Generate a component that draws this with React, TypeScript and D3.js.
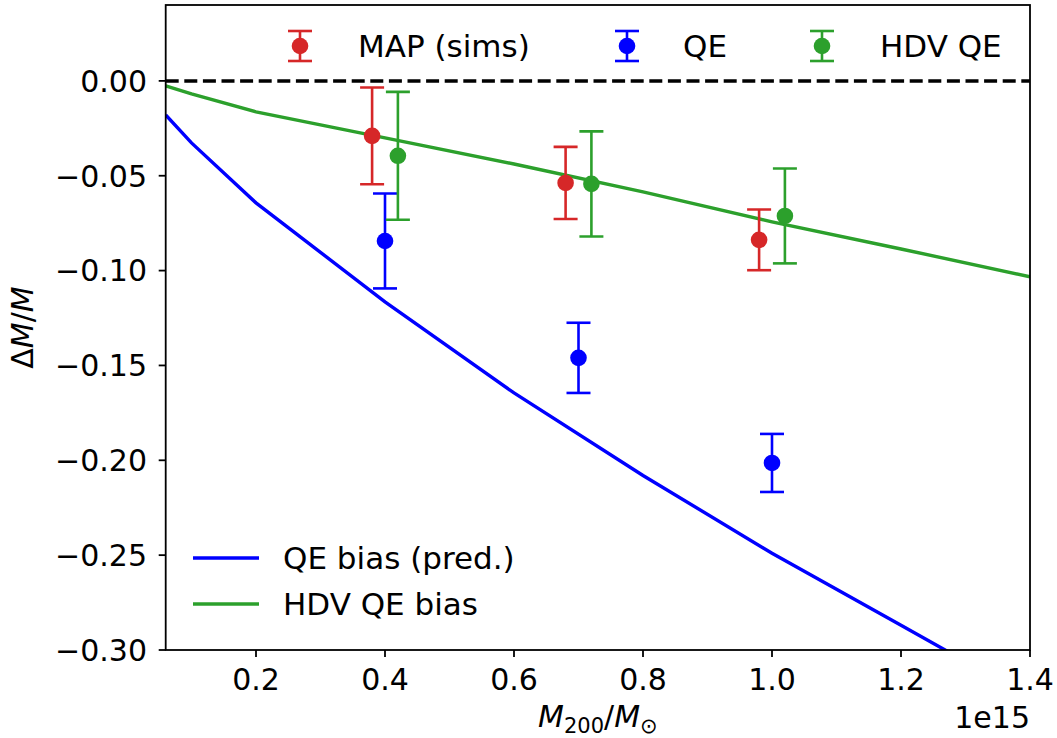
import React from 'react';
import * as d3 from 'd3';

// Prediction curves (x in units of 1e15 Msun)
const massGrid = [0.06, 0.1, 0.2, 0.4, 0.6, 0.8, 1.0, 1.2, 1.4];
const qeBiasPred = [-0.018, -0.0327, -0.0643, -0.1165, -0.1645, -0.208, -0.249, -0.287, -0.325];
const hdvBiasPred = [-0.0026, -0.0069, -0.0163, -0.03, -0.0438, -0.0585, -0.0743, -0.0886, -0.1033];

// Simulation points
const mapX = [0.38, 0.68, 0.98];
const mapY = [-0.029, -0.0538, -0.0838];
const mapErr = [0.0255, 0.019, 0.016];

const qeX = [0.4, 0.7, 1.0];
const qeY = [-0.0844, -0.146, -0.2014];
const qeErr = [0.025, 0.0185, 0.0153];

const hdvX = [0.42, 0.72, 1.02];
const hdvY = [-0.0395, -0.0543, -0.0712];
const hdvErr = [0.0337, 0.0277, 0.025];

const xTicks = [0.2, 0.4, 0.6, 0.8, 1.0, 1.2, 1.4];
const yTicks = [0.0, -0.05, -0.1, -0.15, -0.2, -0.25, -0.3];

const RED = '#d62728';
const BLUE = '#0000ff';
const GREEN = '#2ca02c';
const FONT = 'DejaVu Sans';
const FS = 30;
const LFS = 31;

const W = 1057, H = 738;
const L = 165.7, R = 1030, T = 5, B = 650;

export default function App() {
  const x = d3.scaleLinear().domain([0.06, 1.4]).range([L, R]);
  const y = d3.scaleLinear().domain([-0.3, 0.04]).range([B, T]);
  const line = d3.line<[number, number]>().x(d => x(d[0])).y(d => y(d[1]));
  const qePts = massGrid.map((m, i) => [m, qeBiasPred[i]] as [number, number]);
  const hdvPts = massGrid.map((m, i) => [m, hdvBiasPred[i]] as [number, number]);

  const series = [
    { name: 'MAP (sims)', color: RED, xs: mapX, ys: mapY, es: mapErr },
    { name: 'QE', color: BLUE, xs: qeX, ys: qeY, es: qeErr },
    { name: 'HDV QE', color: GREEN, xs: hdvX, ys: hdvY, es: hdvErr },
  ];

  const errMark = (cx: number, yTop: number, yBot: number, cy: number, color: string, key: string) => (
    <g key={key}>
      <line x1={cx} x2={cx} y1={yTop} y2={yBot} stroke={color} strokeWidth={2.6} />
      <line x1={cx - 12} x2={cx + 12} y1={yTop} y2={yTop} stroke={color} strokeWidth={2.6} />
      <line x1={cx - 12} x2={cx + 12} y1={yBot} y2={yBot} stroke={color} strokeWidth={2.6} />
      <circle cx={cx} cy={cy} r={8.3} fill={color} />
    </g>
  );

  const topLegend = [
    { name: 'MAP (sims)', color: RED, mx: 300, tx: 358 },
    { name: 'QE', color: BLUE, mx: 627, tx: 683 },
    { name: 'HDV QE', color: GREEN, mx: 822, tx: 880 },
  ];

  const fmtY = (v: number) => (v < 0 ? '\u2212' : '') + Math.abs(v).toFixed(2);

  return (
    <div style={{ position: 'absolute', left: 0, top: 0 }}>
      <svg width={W} height={H} style={{ display: 'block' }} fontFamily={FONT}>
        <rect x={0} y={0} width={W} height={H} fill="white" />
        <defs>
          <clipPath id="plotclip">
            <rect x={L} y={T} width={R - L} height={B - T} />
          </clipPath>
        </defs>
        <g clipPath="url(#plotclip)">
          <line x1={L} x2={R} y1={y(0)} y2={y(0)} stroke="black" strokeWidth={3.5} strokeDasharray="13,5.6" />
          <path d={line(qePts) || ''} fill="none" stroke={BLUE} strokeWidth={3.4} />
          <path d={line(hdvPts) || ''} fill="none" stroke={GREEN} strokeWidth={3.4} />
          {series.map(s =>
            s.xs.map((xv, i) =>
              errMark(x(xv), y(s.ys[i] + s.es[i]), y(s.ys[i] - s.es[i]), y(s.ys[i]), s.color, s.name + i)
            )
          )}
        </g>
        {/* spines */}
        <rect x={L} y={T} width={R - L} height={B - T} fill="none" stroke="black" strokeWidth={1.8} />
        {/* x ticks */}
        {xTicks.map(t => (
          <g key={'xt' + t}>
            <line x1={x(t)} x2={x(t)} y1={B} y2={B + 7} stroke="black" strokeWidth={1.8} />
            <text x={x(t)} y={690} fontSize={FS} textAnchor="middle">{t.toFixed(1)}</text>
          </g>
        ))}
        {yTicks.map(t => (
          <g key={'yt' + t}>
            <line x1={L - 7} x2={L} y1={y(t)} y2={y(t)} stroke="black" strokeWidth={1.8} />
            <text x={147} y={y(t)} dy="0.36em" fontSize={FS} textAnchor="end">{fmtY(t)}</text>
          </g>
        ))}
        {/* offset text */}
        <text x={R} y={728} fontSize={FS} textAnchor="end">1e15</text>
        {/* x label */}
        <text x={(L + R) / 2} y={727} fontSize={FS} textAnchor="middle">
          <tspan fontStyle="italic">M</tspan>
          <tspan fontSize={FS * 0.7} dy={6}>200</tspan>
          <tspan dy={-6}>/</tspan>
          <tspan fontStyle="italic">M</tspan>
          <tspan fontSize={FS * 0.7} dy={6}>{'\u2299'}</tspan>
        </text>
        {/* y label */}
        <text transform={`translate(33, ${(T + B) / 2}) rotate(-90)`} fontSize={FS} textAnchor="middle">
          <tspan>Δ</tspan>
          <tspan fontStyle="italic">M</tspan>
          <tspan>/</tspan>
          <tspan fontStyle="italic">M</tspan>
        </text>
        {/* top legend */}
        {topLegend.map(e => (
          <g key={'lg' + e.name}>
            {errMark(e.mx, 31, 61, 46, e.color, 'lgm' + e.name)}
            <text x={e.tx} y={46} dy="0.36em" fontSize={LFS}>{e.name}</text>
          </g>
        ))}
        {/* bottom legend */}
        <line x1={193} x2={259} y1={558} y2={558} stroke={BLUE} strokeWidth={3.4} />
        <text x={283} y={558} dy="0.36em" fontSize={LFS}>QE bias (pred.)</text>
        <line x1={193} x2={259} y1={604} y2={604} stroke={GREEN} strokeWidth={3.4} />
        <text x={283} y={604} dy="0.36em" fontSize={LFS}>HDV QE bias</text>
      </svg>
    </div>
  );
}
